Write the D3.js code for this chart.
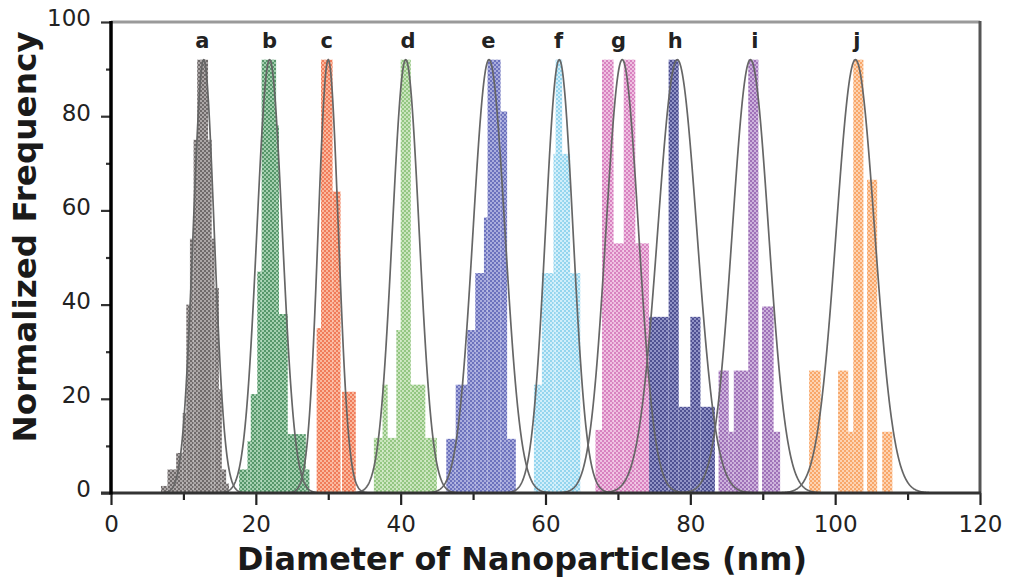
<!DOCTYPE html>
<html><head><meta charset="utf-8">
<script src="https://cdn.jsdelivr.net/npm/d3@7"></script>
<style>html,body{margin:0;padding:0;background:#fff;} svg{display:block}</style>
</head><body>
<svg id="chart" width="1015" height="583"></svg>
<script>
// ---------- data ----------
const categories = ['a','b','c','d','e','f','g','h','i','j'];
const labelX     = [12.6, 21.9, 29.8, 41.0, 52.1, 61.8, 70.1, 77.9, 88.9, 103.0];

// histogram bins per sample: [left edge nm, right edge nm, normalized frequency]
const binsA = [[6.9,7.8,1.5],[7.8,9.0,5],[9.0,9.9,8.5],[9.9,10.4,17],[10.4,10.9,40],[10.9,11.4,54],[11.4,11.9,75],[11.9,13.4,92],[13.4,13.9,75],[13.9,14.3,54],[14.3,14.9,43.5],[14.9,15.3,22],[15.3,15.9,5],[15.9,16.3,2]];
const binsB = [[17.7,18.85,5],[18.85,19.3,11],[19.3,20.2,21],[20.2,20.8,47],[20.8,22.8,92],[22.8,23.2,78],[23.2,24.4,38],[24.4,26.9,12.5],[26.9,27.4,5]];
const binsC = [[28.4,29.0,35],[29.0,30.6,92],[30.6,31.7,64],[31.9,33.8,21.5]];
const binsD = [[36.3,37.5,11.7],[37.5,38.2,23],[38.2,39.4,11.7],[39.4,40.0,34.6],[40.0,41.4,92],[41.4,43.4,23],[43.4,45.0,11.7]];
const binsE = [[46.3,47.6,11.5],[47.6,49.2,23],[49.2,50.3,34.6],[50.3,51.5,46.7],[51.5,52.0,58.5],[52.0,53.8,92],[53.8,54.7,81],[54.7,55.9,11.5]];
const binsF = [[58.4,59.5,23],[59.5,61.1,46.7],[61.1,61.4,72],[61.4,62.3,92],[62.3,63.4,72],[63.4,64.8,46.7]];
const binsG = [[66.9,67.8,13.4],[67.8,69.4,92],[69.4,70.8,53],[70.8,72.4,92],[72.4,74.3,53]];
const binsH = [[74.3,77.0,37.4],[77.0,78.4,92],[78.4,80.0,18.3],[80.0,81.4,37.4],[81.4,83.4,18.3]];
const binsI = [[83.9,85.3,26],[85.3,86.0,13],[86.0,88.0,26],[88.0,89.4,92],[89.9,91.5,39.6],[91.5,92.4,13]];
const binsJ = [[96.4,98.0,26],[100.4,101.8,26],[101.8,102.5,13],[102.5,103.9,92],[104.4,105.8,66.5],[106.5,107.9,13]];
const allBins = [binsA,binsB,binsC,binsD,binsE,binsF,binsG,binsH,binsI,binsJ];

// Gaussian fit parameters per sample (centre nm, sigma nm, peak height)
const fitCenter = [12.8, 21.9, 30.0, 40.7, 52.2, 61.9, 70.6, 78.2, 88.3, 102.8];
const fitSigma  = [1.45, 1.75, 1.4, 1.85, 2.2, 1.9, 2.25, 2.7, 2.5, 2.65];
const fitPeak   = [92, 92, 92, 92, 92, 92, 92, 92, 92, 92];

const xMajorTicks = [0,20,40,60,80,100,120];
const xMinorTicks = [10,30,50,70,90,110];
const yMajorTicks = [0,20,40,60,80,100];
const yMinorTicks = [10,30,50,70,90];

const baseColors  = ['#6f6a6a','#56966a','#f07c5a','#93c682','#6c72bd','#94d5ee','#d882c0','#4f5192','#9f72b8','#f8a76a'];
const lightColors = ['#aca7a7','#a3cfae','#fab89d','#cae5bd','#aaaddd','#d0eefa','#efc0e1','#9193c6','#cdb2dc','#fdd3b2'];

// ---------- drawing ----------
const svg = d3.select('#chart');
const x = d3.scaleLinear().domain([0,120]).range([111,980]);
const y = d3.scaleLinear().domain([0,100]).range([493,22]);

const defs = svg.append('defs');
categories.forEach((c,i)=>{
  const p = defs.append('pattern').attr('id','pat'+c).attr('patternUnits','userSpaceOnUse')
    .attr('width',4).attr('height',4);
  p.append('rect').attr('width',4).attr('height',4).attr('fill',baseColors[i]);
  p.append('rect').attr('x',0).attr('y',0).attr('width',2).attr('height',2).attr('fill',lightColors[i]);
  p.append('rect').attr('x',2).attr('y',2).attr('width',2).attr('height',2).attr('fill',lightColors[i]);
});

const gBars = svg.append('g');
allBins.forEach((bins,i)=>{
  gBars.append('g').selectAll('rect').data(bins).join('rect')
    .attr('x',d=>x(d[0])).attr('width',d=>x(d[1])-x(d[0]))
    .attr('y',d=>y(d[2])).attr('height',d=>y(0)-y(d[2]))
    .attr('fill','url(#pat'+categories[i]+')');
});

const line = d3.line().x(d=>x(d[0])).y(d=>y(d[1])).curve(d3.curveLinear);
const gCurves = svg.append('g');
categories.forEach((c,i)=>{
  const mu=fitCenter[i], s=fitSigma[i], A=fitPeak[i];
  const pts = d3.range(mu-4*s, mu+4*s+0.001, 0.05).map(t=>[t, A*Math.exp(-0.5*((t-mu)/s)**2)]);
  gCurves.append('path').attr('d',line(pts)).attr('fill','none')
    .attr('stroke','#666').attr('stroke-width',1.7);
});

// sample labels
svg.append('g').selectAll('text').data(categories).join('text')
  .attr('x',(d,i)=>x(labelX[i])).attr('y',48)
  .attr('text-anchor','middle')
  .attr('font-family','DejaVu Sans').attr('font-weight','bold').attr('font-size',21)
  .attr('fill','#222').text(d=>d);

// frame
svg.append('line').attr('x1',x(0)).attr('x2',x(120)).attr('y1',y(100)).attr('y2',y(100))
  .attr('stroke','#9a9a9a').attr('stroke-width',3);
svg.append('line').attr('x1',x(120)).attr('x2',x(120)).attr('y1',y(100)-1).attr('y2',y(0))
  .attr('stroke','#555').attr('stroke-width',3);

// x axis
const xAxisMinor = d3.axisBottom(x).tickValues(xMinorTicks).tickSize(7).tickFormat('');
const xAxisMajor = d3.axisBottom(x).tickValues(xMajorTicks).tickSize(12).tickPadding(11).tickFormat(d3.format('d'));
const gxm = svg.append('g').attr('transform',`translate(0,${y(0)})`).call(xAxisMinor);
const gx = svg.append('g').attr('transform',`translate(0,${y(0)})`).call(xAxisMajor);
[gxm,gx].forEach(g=>{ g.select('.domain').remove(); g.selectAll('line').attr('stroke','#222').attr('stroke-width',2.2); });
gx.selectAll('text').attr('font-family','DejaVu Sans').attr('font-size',23).attr('fill','#222');

// y axis
const yAxisMinor = d3.axisLeft(y).tickValues(yMinorTicks).tickSize(5).tickFormat('');
const yAxisMajor = d3.axisLeft(y).tickValues(yMajorTicks).tickSize(10).tickPadding(10).tickFormat(d3.format('d'));
const gym = svg.append('g').attr('transform',`translate(${x(0)},0)`).call(yAxisMinor);
const gy = svg.append('g').attr('transform',`translate(${x(0)},0)`).call(yAxisMajor);
[gym,gy].forEach(g=>{ g.select('.domain').remove(); g.selectAll('line').attr('stroke','#333').attr('stroke-width',2.2); });
gy.selectAll('text').attr('font-family','DejaVu Sans').attr('font-size',23).attr('fill','#222').attr('dy','0.17em');

// axis lines
svg.append('line').attr('x1',x(0)-10).attr('x2',x(120)+1).attr('y1',y(0)).attr('y2',y(0))
  .attr('stroke','#333').attr('stroke-width',3);
svg.append('line').attr('x1',x(0)).attr('x2',x(0)).attr('y1',y(100)-1).attr('y2',y(0)+1.5)
  .attr('stroke','#000').attr('stroke-width',3.5);

// titles
svg.append('text').attr('x',522).attr('y',570).attr('text-anchor','middle')
  .attr('font-family','DejaVu Sans').attr('font-weight','bold').attr('font-size',32)
  .attr('fill','#1a1a1a').attr('textLength',570).attr('lengthAdjust','spacingAndGlyphs')
  .text('Diameter of Nanoparticles (nm)');
svg.append('text').attr('transform','translate(36,237) rotate(-90)').attr('text-anchor','middle')
  .attr('font-family','DejaVu Sans').attr('font-weight','bold').attr('font-size',32)
  .attr('fill','#1a1a1a').attr('textLength',411).attr('lengthAdjust','spacingAndGlyphs')
  .text('Normalized Frequency');
</script>
</body></html>
